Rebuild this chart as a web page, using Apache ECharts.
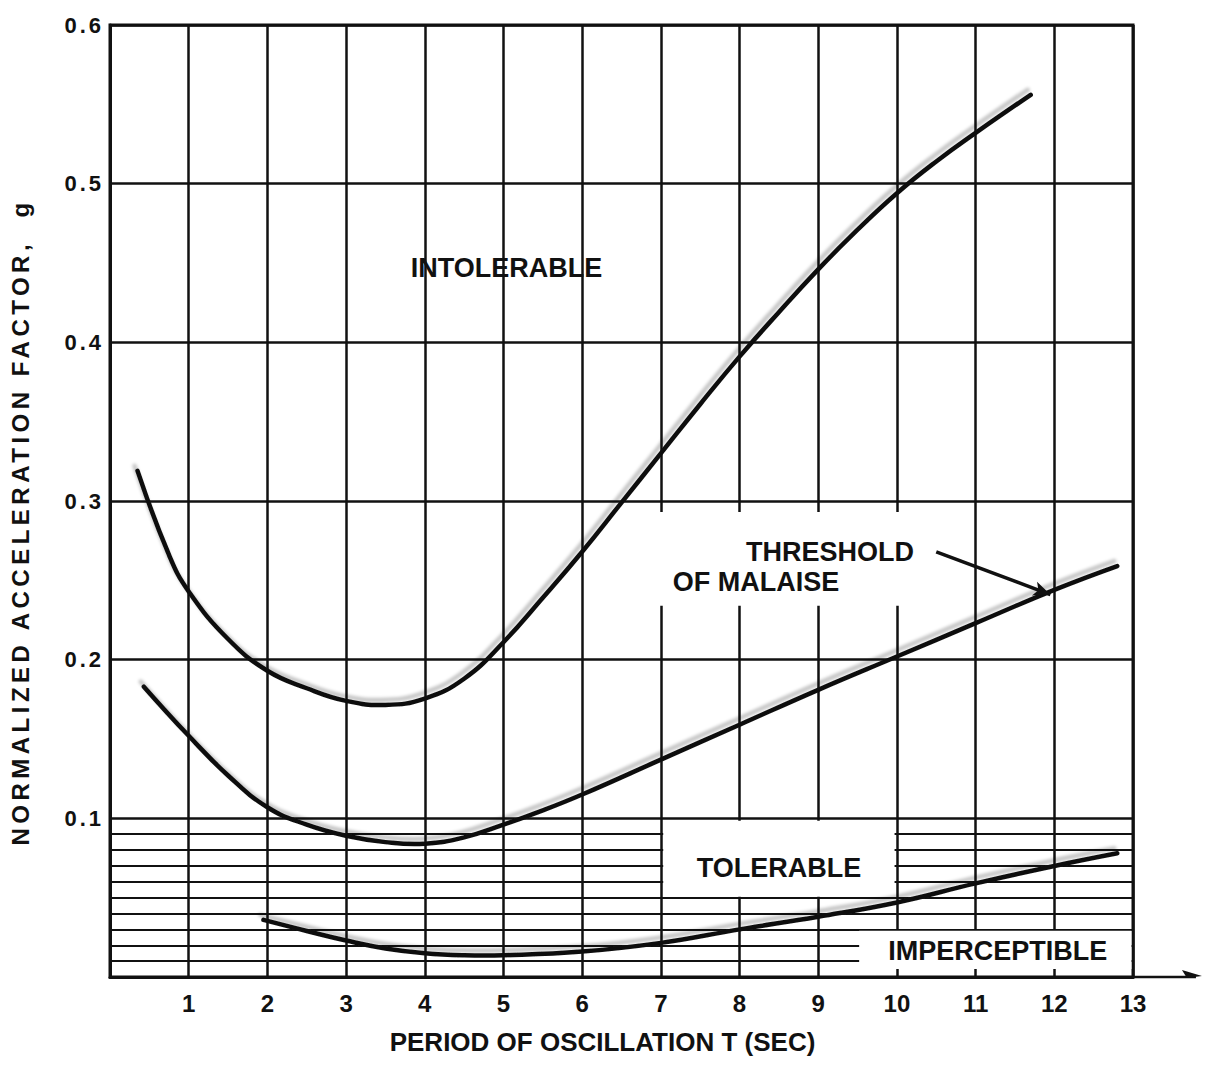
<!DOCTYPE html>
<html>
<head>
<meta charset="utf-8">
<script src="https://cdn.jsdelivr.net/npm/echarts@6/dist/echarts.min.js"></script>
<style>
  html, body { margin: 0; padding: 0; background: #fff; }
  #chart { width: 1205px; height: 1074px; }
</style>
</head>
<body>
<div id="chart"></div>
<script>
// Comfort zones for oscillating motion: acceleration vs period

// upper curve (boundary of the intolerable zone)
const INTOLERABLE_T = [0.35, 0.75, 1, 1.5, 2, 2.5, 3, 3.5, 4, 4.5, 5, 5.5, 6, 6.5, 7, 7.5, 8, 8.5, 9, 9.5, 10, 10.5, 11, 11.7];
const INTOLERABLE_G = [0.319, 0.266, 0.243, 0.213, 0.193, 0.182, 0.174, 0.1715, 0.1755, 0.188, 0.211, 0.239, 0.268, 0.299, 0.330, 0.361, 0.391, 0.419, 0.446, 0.471, 0.494, 0.514, 0.532, 0.556];

// middle curve (threshold of malaise)
const MALAISE_T = [0.43, 1, 1.5, 2, 2.5, 3, 3.5, 4, 4.5, 5, 5.5, 6, 7, 8, 9, 10, 11, 12, 12.8];
const MALAISE_G = [0.183, 0.152, 0.127, 0.107, 0.096, 0.089, 0.085, 0.084, 0.088, 0.096, 0.105, 0.115, 0.137, 0.159, 0.181, 0.202, 0.223, 0.244, 0.259];

// lower curve (limit of perception)
const IMPERCEPTIBLE_T = [1.95, 2.5, 3, 3.5, 4, 4.5, 5, 6, 7, 8, 9, 10, 11, 12, 12.8];
const IMPERCEPTIBLE_G = [0.036, 0.029, 0.023, 0.018, 0.015, 0.0137, 0.0137, 0.016, 0.0215, 0.030, 0.038, 0.047, 0.059, 0.070, 0.078];

const CURVES = [
  [INTOLERABLE_T, INTOLERABLE_G],
  [MALAISE_T, MALAISE_G],
  [IMPERCEPTIBLE_T, IMPERCEPTIBLE_G],
];

// ruled band under 0.1 g
const HATCH_G = [0.01, 0.02, 0.03, 0.04, 0.05, 0.06, 0.07, 0.08, 0.09];

// blank patches left in the printed grid around the zone names: [T0, g0, T1, g1]
const BLANK_ZONES = [
  [7.03, 0.0505, 9.97, 0.0985],
  [9.52, 0.005, 12.98, 0.0292],
  [6.85, 0.234, 10.25, 0.293],
];

const LABEL_TEXT = ['INTOLERABLE', 'THRESHOLD', 'OF MALAISE', 'TOLERABLE', 'IMPERCEPTIBLE'];
const LABEL_T = [5.04, 9.15, 8.21, 8.5, 11.28];
const LABEL_G = [0.447, 0.268, 0.249, 0.069, 0.0165];

// pointer from the label to the middle curve
const POINTER = [[10.5, 0.268], [11.95, 0.241]];
// x axis runs on past the frame
const AXIS_RUNOUT = [[13, 0], [13.8, 0]];

const FONT = 'Liberation Sans';
const INK = '#111';

// extra tracking for the wide-set lettering of the scan
const TRACKING = {
  'NORMALIZED ACCELERATION FACTOR,  g': '4.5px',
  '0.1': '3px', '0.2': '3px', '0.3': '3px', '0.4': '3px', '0.5': '3px', '0.6': '3px',
};

const chart = echarts.init(document.getElementById('chart'), null, { renderer: 'svg' });

chart.setOption({
  animation: false,
  backgroundColor: '#fff',
  grid: { left: 107, right: 72, top: 25, bottom: 97, show: true, borderColor: INK, borderWidth: 3 },
  xAxis: {
    type: 'value', min: 0, max: 13, interval: 1,
    name: 'PERIOD OF OSCILLATION T (SEC)', nameLocation: 'middle', nameGap: 52,
    nameTextStyle: { fontFamily: FONT, fontSize: 26, fontWeight: 'bold', color: INK, padding: [0, 38, 0, 0] },
    axisLine: { lineStyle: { color: INK, width: 3 } },
    axisTick: { show: false },
    axisLabel: { fontFamily: FONT, fontSize: 24, fontWeight: 'bold', color: INK, margin: 14, formatter: v => v === 0 ? '' : String(v) },
    splitLine: { lineStyle: { color: INK, width: 2.5 } },
  },
  yAxis: {
    type: 'value', min: 0, max: 0.6, interval: 0.1,
    name: 'NORMALIZED ACCELERATION FACTOR,  g', nameLocation: 'middle', nameGap: 78, nameRotate: 90,
    nameTextStyle: { fontFamily: FONT, fontSize: 24, fontWeight: 'bold', color: INK, padding: [0, 42, 0, 0] },
    axisLine: { show: true, lineStyle: { color: INK, width: 3 } },
    axisTick: { show: false },
    axisLabel: { fontFamily: FONT, fontSize: 22, fontWeight: 'bold', color: INK, margin: 6, formatter: v => v === 0 ? '' : v.toFixed(1) },
    splitLine: { lineStyle: { color: INK, width: 2.5 } },
  },
  series: [
    {
      name: 'grid fill', type: 'line', data: [], silent: true,
      markLine: {
        silent: true, symbol: 'none', z: 3,
        label: { show: false },
        lineStyle: { color: INK, width: 2, type: 'solid' },
        data: HATCH_G.map(g => ({ yAxis: g })),
      },
      markArea: {
        silent: true, z: 4,
        itemStyle: { color: '#fff', opacity: 1 },
        data: BLANK_ZONES.map(([t0, g0, t1, g1]) => [{ coord: [t0, g0] }, { coord: [t1, g1] }]),
      },
    },
    {
      // free-hand looking curves: an unconstrained bezier through the read points
      name: 'boundaries', type: 'custom', coordinateSystem: 'cartesian2d', silent: true, z: 10,
      data: CURVES.map((c, i) => [c[0][0], c[1][0], i]),
      renderItem: (params, api) => {
        const [ts, gs] = CURVES[params.dataIndex];
        return {
          type: 'polyline',
          shape: { points: ts.map((t, i) => api.coord([t, gs[i]])), smooth: 0.45 },
          style: {
            fill: 'none', stroke: INK, lineWidth: 4.5, lineCap: 'round', lineJoin: 'round',
            shadowColor: 'rgba(0,0,0,0.22)', shadowBlur: 3, shadowOffsetX: -3, shadowOffsetY: -5,
          },
        };
      },
    },
    {
      name: 'zone names', type: 'scatter', silent: true, z: 11,
      symbolSize: 0,
      itemStyle: { opacity: 1 },
      data: LABEL_TEXT.map((t, i) => ({ name: t, value: [LABEL_T[i], LABEL_G[i]] })),
      label: { show: true, position: 'inside', formatter: '{b}', fontFamily: FONT, fontSize: 27, fontWeight: 'bold', color: INK },
      markLine: {
        silent: true, z: 12,
        symbol: ['none', 'arrow'], symbolSize: [11, 17],
        label: { show: false },
        lineStyle: { color: INK, width: 3.5, type: 'solid' },
        data: [[{ coord: POINTER[0] }, { coord: POINTER[1] }]],
      },
    },
  ],
});

// x axis carries on past the frame to an arrow head
const [rx0, ry0] = chart.convertToPixel({ gridIndex: 0 }, AXIS_RUNOUT[0]);
const [rx1, ry1] = chart.convertToPixel({ gridIndex: 0 }, AXIS_RUNOUT[1]);
chart.setOption({
  graphic: [
    { type: 'line', silent: true, z: 20, shape: { x1: rx0, y1: ry0, x2: rx1, y2: ry1 }, style: { stroke: INK, lineWidth: 2.5 } },
    { type: 'polygon', silent: true, z: 20, shape: { points: [[rx1 + 6, ry1 - 1], [rx1 - 14, ry1 - 7], [rx1 - 9, ry1 + 1]] }, style: { fill: INK } },
  ],
});

function applyTracking() {
  document.querySelectorAll('#chart text').forEach(el => {
    const s = TRACKING[el.textContent];
    if (s) el.style.letterSpacing = s;
  });
}
applyTracking();
chart.on('finished', applyTracking);
</script>
</body>
</html>
